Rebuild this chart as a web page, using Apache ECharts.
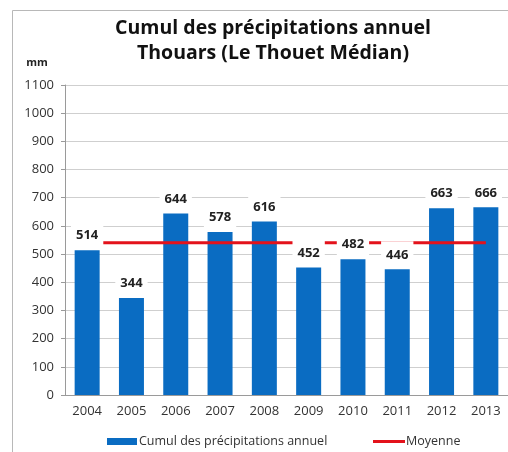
<!DOCTYPE html>
<html>
<head>
<meta charset="utf-8">
<script src="https://cdn.jsdelivr.net/npm/echarts@6/dist/echarts.min.js"></script>
<style>html,body{margin:0;padding:0;background:#fff}#c{width:508px;height:452px}</style>
</head>
<body>
<div id="c"></div>
<script>
var years = ['2004','2005','2006','2007','2008','2009','2010','2011','2012','2013'];
var cumul = [514, 344, 644, 578, 616, 452, 482, 446, 663, 666];
var moyenne = [540, 540, 540, 540, 540, 540, 540, 540, 540, 540];
var titleLines = ['Cumul des précipitations annuel', 'Thouars (Le Thouet Médian)'];
var seriesNames = ['Cumul des précipitations annuel', 'Moyenne'];
var unit = 'mm';

var FONT = 'Open Sans';
var chart = echarts.init(document.getElementById('c'), null, {renderer: 'canvas'});
chart.setOption({
  animation: false,
  backgroundColor: '#fff',
  textStyle: {fontFamily: FONT},
  title: {
    text: titleLines.join('\n'),
    left: 268, top: 11, textAlign: 'center',
    textStyle: {fontFamily: FONT, fontSize: 19.5, fontWeight: 'bold', color: '#111', lineHeight: 25}
  },
  graphic: [
    {type: 'rect', shape: {x: 12.5, y: 10.5, width: 520, height: 470}, style: {fill: 'none', stroke: '#b8b8b8', lineWidth: 1}, silent: true, z: -10},
    {type: 'text', x: 37, y: 63, style: {text: unit, font: 'bold 11px "Open Sans"', fill: '#222', align: 'center', verticalAlign: 'middle'}}
  ],
  legend: [
    {data: [{name: seriesNames[0], icon: 'rect'}], left: 102, top: 430, itemWidth: 30, itemHeight: 7, itemGap: 2,
     textStyle: {fontFamily: FONT, fontSize: 12.5, color: '#333', padding: [0, 0, 0, -3]}},
    {data: [{name: seriesNames[1], icon: 'rect'}], left: 368, top: 430, itemWidth: 32, itemHeight: 3,
     textStyle: {fontFamily: FONT, fontSize: 12.5, color: '#333', padding: [0, 0, 0, -4]}}
  ],
  grid: {left: 65, top: 85, width: 445, height: 310, containLabel: false},
  xAxis: {
    type: 'category', data: years,
    axisLine: {lineStyle: {color: '#9a9a9a'}},
    axisTick: {show: false},
    axisLabel: {fontFamily: FONT, fontSize: 13, color: '#333', margin: 10}
  },
  yAxis: {
    type: 'value', min: 0, max: 1100, interval: 100,
    axisLine: {show: true, lineStyle: {color: '#9a9a9a'}},
    axisTick: {show: true, length: 4, lineStyle: {color: '#9a9a9a'}},
    splitLine: {lineStyle: {color: '#cfcfcf'}},
    axisLabel: {fontFamily: FONT, fontSize: 13, color: '#333', margin: 11, formatter: function (v) { return String(v); }}
  },
  series: [
    {name: seriesNames[0], type: 'bar', data: cumul, barWidth: 25, z: 2,
     itemStyle: {color: '#0a6cc2'}},
    {name: seriesNames[1], type: 'line', data: moyenne, z: 3, showSymbol: false, symbol: 'none',
     lineStyle: {color: '#e3121b', width: 3}, itemStyle: {color: '#e3121b'}},
    {name: 'labels', type: 'bar', data: cumul, barWidth: 25, barGap: '-100%', z: 5,
     itemStyle: {color: 'rgba(0,0,0,0)'}, silent: true,
     label: {show: true, position: 'top', distance: 4, fontFamily: FONT, fontSize: 13, fontWeight: 'bold',
       color: '#222', backgroundColor: '#fff', padding: [7, 5, 4, 5]}}
  ]
});
</script>
</body>
</html>
